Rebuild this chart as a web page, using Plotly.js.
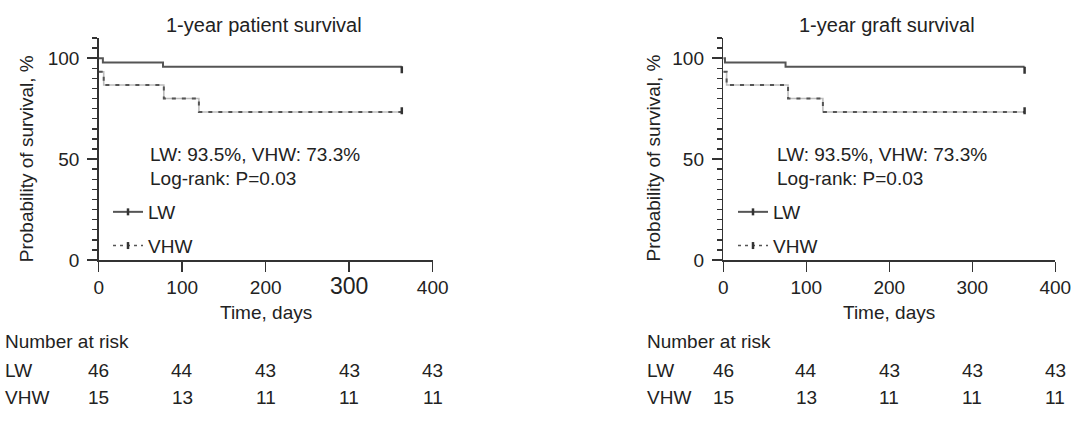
<!DOCTYPE html>
<html>
<head>
<meta charset="utf-8">
<script src="https://cdn.plot.ly/plotly-3.0.1.min.js"></script>
<style>html,body{margin:0;padding:0;background:#fff;}#chart{width:1072px;height:424px;}</style>
</head>
<body>
<div id="chart"></div>
<script>
// ---- data ----
const panelTitles = ["1-year patient survival", "1-year graft survival"];
const groups = ["LW", "VHW"];
const xTicks = [0, 100, 200, 300, 400];
const yTicks = [0, 50, 100];
const yMinorTicks = [0, 5, 10, 15, 20, 25, 30, 35, 40, 45, 50, 55, 60, 65, 70, 75, 80, 85, 90, 95, 100, 105, 110];

// Kaplan-Meier step points (days, survival %)
const patientLW_x = [0, 5, 77, 363];
const patientLW_y = [100, 97.8, 95.7, 95.7];
const patientVHW_x = [0, 6, 78, 120, 363];
const patientVHW_y = [93.3, 86.7, 80.0, 73.3, 73.3];
const graftLW_x = [0, 2, 75, 363];
const graftLW_y = [100, 97.8, 95.7, 95.7];
const graftVHW_x = [0, 4, 78, 120, 363];
const graftVHW_y = [93.3, 86.7, 80.0, 73.3, 73.3];

// censor marks at end of follow-up
const censorX = [363];
const patientLW_censorY = [94.3];
const patientVHW_censorY = [74.0];
const graftLW_censorY = [94.0];
const graftVHW_censorY = [74.0];

const statText = "LW: 93.5%, VHW: 73.3%";
const logrankText = "Log-rank: P=0.03";

// number at risk
const riskLW = [46, 44, 43, 43, 43];
const riskVHW = [15, 13, 11, 11, 11];

// ---- layout helpers ----
const W = 1072, TOP = 38, BOT = 260;
const PH = BOT - TOP;
const FONT = "Liberation Sans, Arial, Helvetica, sans-serif";
const TXT = "#222";
const FS = 19;
const LWcol = "#555";
const VHWlight = "#bdbdbd";
const VHWdark = "#555";
const MINORCOL = "#333";
const py = pix => (BOT - pix) / PH;
const px = pix => pix / W;

const panels = [
  {xa: "x", ya: "y", dom: [98.7 / W, 432.7 / W], lwX: patientLW_x, lwY: patientLW_y, vX: patientVHW_x, vY: patientVHW_y,
   lwC: patientLW_censorY, vC: patientVHW_censorY, legend: "legend", riskLeft: 3, ytitleX: 26.7, statX: 59.4},
  {xa: "x2", ya: "y2", dom: [723.3 / W, 1055.3 / W], lwX: graftLW_x, lwY: graftLW_y, vX: graftVHW_x, vY: graftVHW_y,
   lwC: graftLW_censorY, vC: graftVHW_censorY, legend: "legend2", riskLeft: 645, ytitleX: 653, statX: 62.3}
];

const data = [];
const annotations = [];
const txt = (size) => ({size: size || FS, family: FONT, color: TXT});

panels.forEach((p, i) => {
  data.push({x: p.lwX, y: p.lwY, xaxis: p.xa, yaxis: p.ya, mode: "lines", line: {shape: "hv", color: LWcol, width: 2},
             showlegend: false, hoverinfo: "skip"});
  data.push({x: p.vX, y: p.vY, xaxis: p.xa, yaxis: p.ya, mode: "lines", line: {shape: "hv", color: VHWlight, width: 1.6},
             showlegend: false, hoverinfo: "skip"});
  data.push({x: p.vX, y: p.vY, xaxis: p.xa, yaxis: p.ya, mode: "lines", line: {shape: "hv", color: VHWdark, width: 2, dash: "4px,6px"},
             showlegend: false, hoverinfo: "skip"});
  data.push({x: censorX, y: p.lwC, xaxis: p.xa, yaxis: p.ya, mode: "lines+markers", name: groups[0],
             line: {color: LWcol, width: 2}, marker: {symbol: "line-ns", size: 5, line: {color: "#333", width: 2.5}},
             legend: p.legend, legendgroup: "a" + i, hoverinfo: "skip"});
  data.push({x: censorX, y: p.vC, xaxis: p.xa, yaxis: p.ya, mode: "lines+markers", name: groups[1],
             line: {color: VHWdark, width: 1.6, dash: "3px,4px"}, marker: {symbol: "line-ns", size: 5, line: {color: "#333", width: 2.5}},
             legend: p.legend, legendgroup: "b" + i, hoverinfo: "skip"});

  const cx = (p.dom[0] + p.dom[1]) / 2;
  annotations.push({text: panelTitles[i], xref: "paper", yref: "paper", x: cx - px(2), y: py(25), xanchor: "center", yanchor: "middle",
                    showarrow: false, font: txt(20)});
  annotations.push({text: "Probability of survival, %", xref: "paper", yref: "paper", x: px(p.ytitleX), y: py(158.5), textangle: -90,
                    xanchor: "center", yanchor: "middle", showarrow: false, font: txt()});
  annotations.push({text: statText, xref: p.xa, yref: "paper", x: p.statX, y: py(154), xanchor: "left", yanchor: "middle",
                    showarrow: false, font: txt()});
  annotations.push({text: logrankText, xref: p.xa, yref: "paper", x: p.statX, y: py(178), xanchor: "left", yanchor: "middle",
                    showarrow: false, font: txt()});
  annotations.push({text: "Time, days", xref: p.xa, yref: "paper", x: 200, y: py(312), xanchor: "center", yanchor: "middle",
                    showarrow: false, font: txt()});
  annotations.push({text: "Number at risk", xref: "paper", yref: "paper", x: px(p.riskLeft), y: py(341), xanchor: "left", yanchor: "middle",
                    showarrow: false, font: txt()});
  annotations.push({text: groups[0], xref: "paper", yref: "paper", x: px(p.riskLeft), y: py(370), xanchor: "left", yanchor: "middle",
                    showarrow: false, font: txt()});
  annotations.push({text: groups[1], xref: "paper", yref: "paper", x: px(p.riskLeft), y: py(397), xanchor: "left", yanchor: "middle",
                    showarrow: false, font: txt()});
  xTicks.forEach((t, k) => {
    annotations.push({text: String(riskLW[k]), xref: p.xa, yref: "paper", x: t, y: py(370), xanchor: "center", yanchor: "middle",
                      showarrow: false, font: txt()});
    annotations.push({text: String(riskVHW[k]), xref: p.xa, yref: "paper", x: t, y: py(397), xanchor: "center", yanchor: "middle",
                      showarrow: false, font: txt()});
  });
});

const xTickText0 = xTicks.map(t => t === 300 ? '<span style="font-size:23px">300</span>' : String(t));

function xAxis(dom, tickText) {
  return {domain: dom, range: [0, 400], tickvals: xTicks, ticktext: tickText, ticks: "outside", ticklen: 10, tickwidth: 1.5,
          tickcolor: "#333", showline: true, linecolor: "#333", linewidth: 1.5, showgrid: false, zeroline: false,
          tickfont: txt(), fixedrange: true};
}
function yAxis(anchor) {
  return {anchor: anchor, domain: [0, 1], range: [0, 110], tickvals: yTicks,
          ticks: "outside", ticklen: 10, tickwidth: 1.5,
          tickcolor: "#333", showline: true, linecolor: "#333", linewidth: 1.5, showgrid: false, zeroline: false,
          minor: {tickmode: "array", tickvals: yMinorTicks, ticks: "outside", ticklen: 5, tickwidth: 1.5, tickcolor: MINORCOL, showgrid: false},
          ticklabelstandoff: 4, tickfont: txt(), fixedrange: true};
}

function legendCfg(xPix) {
  return {x: px(xPix), y: py(193), xanchor: "left", yanchor: "top", bgcolor: "rgba(0,0,0,0)", borderwidth: 0,
          font: txt(), tracegroupgap: 6, traceorder: "grouped"};
}

const layout = {
  width: 1072, height: 424,
  margin: {l: 0, r: 0, t: TOP, b: 424 - BOT, pad: 0},
  paper_bgcolor: "#fff", plot_bgcolor: "#fff",
  font: {family: FONT, color: TXT, size: FS},
  xaxis: xAxis(panels[0].dom, xTickText0),
  yaxis: yAxis("x"),
  xaxis2: xAxis(panels[1].dom, xTicks.map(String)),
  yaxis2: yAxis("x2"),
  legend: legendCfg(108),
  legend2: legendCfg(733),
  annotations: annotations,
  showlegend: true
};

Plotly.newPlot("chart", data, layout, {displayModeBar: false, staticPlot: true});
</script>
</body>
</html>
